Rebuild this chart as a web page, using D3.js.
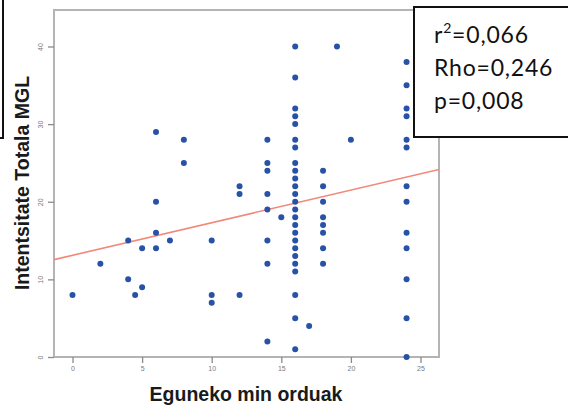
<!DOCTYPE html>
<html>
<head>
<meta charset="utf-8">
<script src="https://cdn.jsdelivr.net/npm/d3@7"></script>
<style>
  html, body { margin: 0; padding: 0; background: #fff; }
  svg { display: block; }
</style>
</head>
<body>
<div id="chart"></div>
<script>
// Daily pain hours (x) against total MGL intensity (y), one entry per respondent
const hours = [
  0, 2, 4, 4, 4.5, 5, 5, 6, 6, 6, 6, 7, 8, 8, 10, 10, 10, 12, 12, 12,
  14, 14, 14, 14, 14, 14, 14, 14, 15,
  16, 16, 16, 16, 16, 16, 16, 16, 16, 16, 16, 16, 16, 16, 16, 16, 16, 16, 16, 16, 16, 16, 16, 16, 16,
  17, 18, 18, 18, 18, 18, 18, 18, 18, 19, 20,
  24, 24, 24, 24, 24, 24, 24, 24, 24, 24, 24, 24, 24
];
const intensity = [
  8, 12, 15, 10, 8, 14, 9, 29, 20, 16, 14, 15, 28, 25, 15, 8, 7, 22, 21, 8,
  28, 25, 24, 21, 19, 15, 12, 2, 18,
  40, 36, 32, 31, 30, 28, 27, 25, 24, 23, 22, 21, 20, 19, 18, 17, 16, 15, 14, 13, 12, 11, 8, 5, 1,
  4, 24, 22, 20, 18, 17, 16, 14, 12, 40, 28,
  38, 35, 32, 31, 28, 27, 22, 20, 16, 14, 10, 5, 0
];

// Linear fit line (intercept, slope)
const fitIntercept = 13.1;
const fitSlope = 0.42;

// Axis ticks
const xTicks = [0, 5, 10, 15, 20, 25];
const yTicks = [0, 10, 20, 30, 40];

// Statistics box lines
const statLines = [
  { pre: "r", sup: "2", post: "=0,066" },
  { pre: "Rho=0,246", sup: "", post: "" },
  { pre: "p=0,008", sup: "", post: "" }
];

const xTitle = "Eguneko min orduak";
const yTitle = "Intentsitate Totala MGL";

const W = 568, H = 405;
const plot = { left: 54, right: 439, top: 10, bottom: 357 };

const svg = d3.select("#chart").append("svg")
  .attr("width", W).attr("height", H);

const x = d3.scaleLinear().domain([-1.33, 26.33]).range([plot.left, plot.right]);
const y = d3.scaleLinear().domain([0, 44.7]).range([plot.bottom, plot.top]);

const frameColor = "#b4b4b4";
const tickColor = "#8a8a8a";

// Plot frame
svg.append("rect")
  .attr("x", plot.left).attr("y", plot.top)
  .attr("width", plot.right - plot.left).attr("height", plot.bottom - plot.top)
  .attr("fill", "#fff").attr("stroke", frameColor).attr("stroke-width", 2);

// Bottom axis
const xAxis = svg.append("g")
  .attr("transform", `translate(0,${plot.bottom})`)
  .call(d3.axisBottom(x).tickValues(xTicks).tickSize(6).tickPadding(3).tickFormat(d3.format("d")));
xAxis.select(".domain").remove();
xAxis.selectAll(".tick line").attr("stroke", tickColor).attr("stroke-width", 1.3);
xAxis.selectAll(".tick text")
  .attr("fill", "#7a7a7a").attr("font-size", 7)
  .attr("font-family", "Liberation Sans, Arial, sans-serif");

// Left axis with rotated labels
const yAxis = svg.append("g")
  .attr("transform", `translate(${plot.left},0)`)
  .call(d3.axisLeft(y).tickValues(yTicks).tickSize(6).tickPadding(3).tickFormat(d3.format("d")));
yAxis.select(".domain").remove();
yAxis.selectAll(".tick line").attr("stroke", tickColor).attr("stroke-width", 1.3);
yAxis.selectAll(".tick text")
  .attr("fill", "#7a7a7a").attr("font-size", 7)
  .attr("font-family", "Liberation Sans, Arial, sans-serif")
  .attr("text-anchor", "middle")
  .attr("x", 0).attr("dy", 0)
  .attr("transform", "translate(-11,0) rotate(-90)");

// Fit line clipped to the plot area
svg.append("clipPath").attr("id", "plotClip")
  .append("rect")
  .attr("x", plot.left).attr("y", plot.top)
  .attr("width", plot.right - plot.left).attr("height", plot.bottom - plot.top);

const xd = x.domain();
svg.append("line")
  .attr("clip-path", "url(#plotClip)")
  .attr("x1", x(xd[0])).attr("y1", y(fitIntercept + fitSlope * xd[0]))
  .attr("x2", x(xd[1])).attr("y2", y(fitIntercept + fitSlope * xd[1]))
  .attr("stroke", "#f2877a").attr("stroke-width", 1.6);

// Observations
svg.append("g").selectAll("circle")
  .data(hours.map((h, i) => [h, intensity[i]]))
  .join("circle")
  .attr("cx", d => x(d[0]))
  .attr("cy", d => y(d[1]))
  .attr("r", 3)
  .attr("fill", "#2752a6");

// Axis titles
svg.append("text")
  .attr("x", (plot.left + plot.right) / 2 - 0.5).attr("y", 400.5)
  .attr("text-anchor", "middle")
  .attr("font-family", "Liberation Sans, Arial, sans-serif")
  .attr("font-weight", "bold").attr("font-size", 19.5)
  .attr("fill", "#1a1a1a")
  .text(xTitle);

svg.append("text")
  .attr("transform", `translate(28.5,183) rotate(-90)`)
  .attr("text-anchor", "middle")
  .attr("font-family", "Liberation Sans, Arial, sans-serif")
  .attr("font-weight", "bold").attr("font-size", 19.5)
  .attr("fill", "#1a1a1a")
  .text(yTitle);

// Partial box along the left edge
svg.append("rect")
  .attr("x", -20).attr("y", -20).attr("width", 23).attr("height", 158)
  .attr("fill", "none").attr("stroke", "#111").attr("stroke-width", 2);

// Statistics box
svg.append("rect")
  .attr("x", 414).attr("y", 7).attr("width", 200).attr("height", 130)
  .attr("fill", "#fff").attr("stroke", "#111").attr("stroke-width", 2);

const baselines = [43, 76, 109];
statLines.forEach((ln, i) => {
  const t = svg.append("text")
    .attr("x", 434).attr("y", baselines[i])
    .attr("font-family", "Lato, Open Sans, sans-serif")
    .attr("font-size", 23)
    .attr("letter-spacing", 0.8)
    .attr("fill", "#111");
  t.append("tspan").text(ln.pre);
  if (ln.sup) {
    t.append("tspan").attr("dy", -10).attr("font-size", 14).text(ln.sup);
    t.append("tspan").attr("dy", 10).text(ln.post);
  }
});
</script>
</body>
</html>
